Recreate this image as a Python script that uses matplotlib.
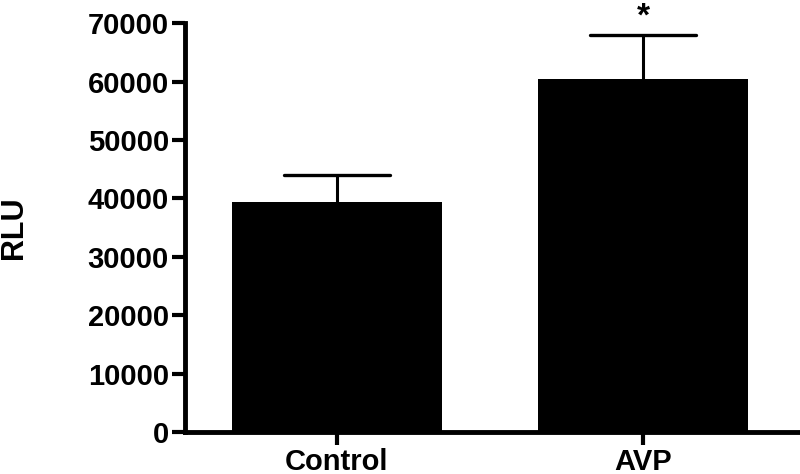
import matplotlib
matplotlib.use("Agg")
import matplotlib.pyplot as plt

categories = ["Control", "AVP"]
values = [39380, 60390]
errors = [4690, 7660]
y_ticks = [0, 10000, 20000, 30000, 40000, 50000, 60000, 70000]
annotations = ["", "*"]

plt.rcParams['font.family'] = ['Liberation Sans', 'DejaVu Sans']
fig = plt.figure(figsize=(8, 4.74), dpi=100)
ax = fig.add_axes([0.231, 0.0886, 0.768, 0.8626])

x = list(range(len(categories)))
bar_w = 0.686
cap_half = 0.172
ax.bar(x, values, width=bar_w, color='black', zorder=2)
tops = [v + e for v, e in zip(values, errors)]
ax.vlines(x, values, tops, colors='black', linewidth=2.2, zorder=1)
ax.hlines(tops, [xi - cap_half for xi in x], [xi + cap_half for xi in x],
          colors='black', linewidth=2.4, zorder=1, capstyle='round')
for xi, t, a in zip(x, tops, annotations):
    if a:
        ax.text(xi, t + 1500, a, ha='center', va='baseline', fontsize=24,
                fontweight='bold', clip_on=False)

ax.set_xlim(-0.497, 1.51)
ax.set_ylim(0, 70000)
ax.set_yticks(y_ticks)
ax.set_yticklabels([str(t) for t in y_ticks])
ax.set_xticks(x)
ax.set_xticklabels(categories)
for s in ['top', 'right']:
    ax.spines[s].set_visible(False)
for s in ['left', 'bottom']:
    ax.spines[s].set_linewidth(3.5)
ax.tick_params(axis='both', width=3, length=9.5, labelsize=21, pad=2)
for lbl in ax.get_xticklabels() + ax.get_yticklabels():
    lbl.set_fontweight('bold')
ax.set_ylabel("RLU", fontsize=22, fontweight='bold')
ax.yaxis.set_label_coords(-0.254, 0.5)

fig.savefig("out.png", dpi=100)
